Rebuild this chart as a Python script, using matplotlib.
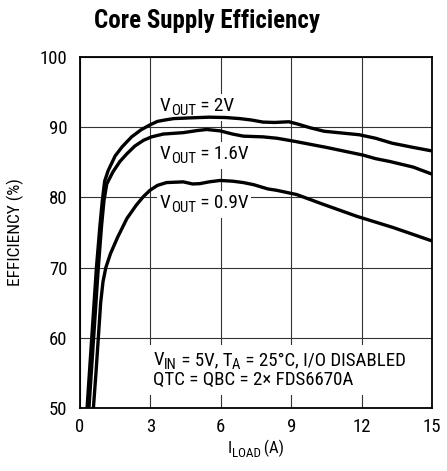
import matplotlib
matplotlib.use("Agg")
import matplotlib.pyplot as plt
from matplotlib import font_manager
from matplotlib.transforms import ScaledTranslation, IdentityTransform, Bbox
from matplotlib.patches import Rectangle

# ---------------- data ----------------
x_2v = [0.30, 0.50, 0.70, 0.85, 0.95, 1.05, 1.20, 1.50, 1.80, 2.20, 2.60, 2.98, 3.30, 3.62,
        4.00, 4.70, 5.50, 6.20, 6.80, 7.30, 7.80, 8.30, 8.90, 9.30, 9.80, 10.4, 11.0, 11.9,
        12.6, 13.3, 14.2, 15.0]
y_2v = [50.0, 60.0, 70.0, 76.0, 79.5, 82.3, 83.8, 85.9, 87.2, 88.6, 89.6, 90.3, 90.8, 91.0,
        91.2, 91.3, 91.4, 91.35, 91.2, 91.0, 90.7, 90.65, 90.75, 90.4, 89.9, 89.4, 89.2, 88.9,
        88.4, 87.7, 87.1, 86.6]

x_16v = [0.38, 0.58, 0.78, 0.92, 1.02, 1.14, 1.40, 1.70, 2.00, 2.34, 2.70, 3.05, 3.55, 4.40,
         5.00, 5.40, 5.97, 6.50, 6.96, 7.80, 8.40, 9.09, 10.5, 12.07, 12.6, 13.2, 14.2, 15.0]
y_16v = [50.0, 60.0, 70.0, 76.0, 79.5, 81.9, 83.6, 85.1, 86.2, 87.3, 88.1, 88.6, 89.0, 89.2,
         89.5, 89.65, 89.45, 89.0, 88.7, 88.6, 88.4, 88.0, 87.1, 86.0, 85.5, 85.1, 84.3, 83.3]

x_09v = [0.57, 0.68, 0.78, 0.88, 0.98, 1.10, 1.30, 1.60, 2.00, 2.40, 2.70, 2.98, 3.30, 3.69,
         4.40, 4.80, 5.11, 5.50, 5.97, 6.50, 6.96, 7.40, 8.00, 8.38, 9.23, 10.37, 11.8, 13.35, 15.0]
y_09v = [50.0, 55.0, 60.0, 65.0, 68.0, 70.0, 72.0, 74.3, 77.0, 78.9, 80.1, 81.0, 81.7, 82.1,
         82.2, 81.9, 81.95, 82.2, 82.4, 82.3, 82.1, 81.8, 81.2, 81.0, 80.4, 79.0, 77.3, 75.7, 73.8]

x_ticks = [0, 3, 6, 9, 12, 15]
y_ticks = [50, 60, 70, 80, 90, 100]

title = "Core Supply Efficiency"
ylabel = "EFFICIENCY (%)"
xlabel_parts = [("I", 0), ("LOAD", 1), (" (A)", 0)]
label_2v_parts = [("V", 0), ("OUT", 1), (" = 2V", 0)]
label_16v_parts = [("V", 0), ("OUT", 1), (" = 1.6V", 0)]
label_09v_parts = [("V", 0), ("OUT", 1), (" = 0.9V", 0)]
note1_parts = [("V", 0), ("IN", 1), (" = 5V, T", 0), ("A", 1), (" = 25°C, I/O DISABLED", 0)]
note2_parts = [("QTC = QBC = 2× FDS6670A", 0)]

# ---------------- fonts ----------------
names = {f.name for f in font_manager.fontManager.ttflist}
fam = None
for cand in ["Liberation Sans Narrow", "Roboto Condensed", "DejaVu Sans Condensed", "Liberation Sans"]:
    if cand in names:
        fam = cand
        break
plt.rcParams['font.family'] = [fam, 'DejaVu Sans']

# ---------------- figure ----------------
W, H = 447, 471
fig = plt.figure(figsize=(W / 100, H / 100), dpi=100)
ax = fig.add_axes([80 / W, 1 - 408.3 / H, (432 - 80) / W, (408.3 - 56.7) / H])
renderer = fig.canvas.get_renderer()

lw = 2.4
for xs, ys in [(x_2v, y_2v), (x_16v, y_16v), (x_09v, y_09v)]:
    ax.plot(xs, ys, color='black', lw=lw, zorder=5, solid_capstyle='butt',
            solid_joinstyle='round')

ax.set_xlim(0, 15)
ax.set_ylim(50, 100)
ax.set_xticks(x_ticks)
ax.set_yticks(y_ticks)
ax.grid(True, color='#333333', lw=0.8, zorder=1)
ax.set_axisbelow(True)
ax.tick_params(length=0, labelsize=13.5, pad=7)
ax.tick_params(axis='y', pad=9)
for s in ax.spines.values():
    s.set_linewidth(1.3)
    s.set_color('black')
    s.set_zorder(6)

ax.set_ylabel(ylabel, fontsize=12.5, labelpad=11)


def rich(x, y, parts, size, transform, ha='left', zorder=4.5, sub_scale=0.78):
    """Draw text pieces with subscripts next to each other, baseline at (x, y)."""
    texts = []
    dx = 0.0
    for s, sub in parts:
        fs = size * sub_scale if sub else size
        dy = -size * 0.22 if sub else 0.0
        tr = transform + ScaledTranslation(dx / 72, dy / 72, fig.dpi_scale_trans)
        t = ax.text(x, y, s, fontsize=fs, transform=tr, ha='left', va='baseline',
                    zorder=zorder, clip_on=False)
        dx += t.get_window_extent(renderer).width * 72 / fig.dpi
        texts.append(t)
    if ha == 'center':
        shift = -dx / 2
        for t in texts:
            t.set_transform(t.get_transform() + ScaledTranslation(shift / 72, 0, fig.dpi_scale_trans))
    return texts


def backdrop(texts, pad_px):
    bb = Bbox.union([t.get_window_extent(renderer) for t in texts])
    r = Rectangle((bb.x0 - pad_px, bb.y0 - pad_px), bb.width + 2 * pad_px, bb.height + 2 * pad_px,
                  transform=IdentityTransform(), facecolor='white', edgecolor='none',
                  zorder=3, clip_on=False)
    ax.add_artist(r)


# x label
rich(0.5, -0.128, xlabel_parts, 12, ax.transAxes, ha='center')

fig.text(207 / W, 1 - 28 / H, title, ha='center', va='baseline',
         fontsize=18, fontweight='bold')

for yv, parts in [(92.3, label_2v_parts), (85.45, label_16v_parts), (78.5, label_09v_parts)]:
    tt = rich(3.41, yv, parts, 13.8, ax.transData)
    backdrop(tt, 3)

t1 = rich(3.12, 56.15, note1_parts, 13.6, ax.transData)
t2 = rich(3.12, 53.3, note2_parts, 13.6, ax.transData)
backdrop(t1 + t2, 6)

fig.savefig("out.png", dpi=100)
